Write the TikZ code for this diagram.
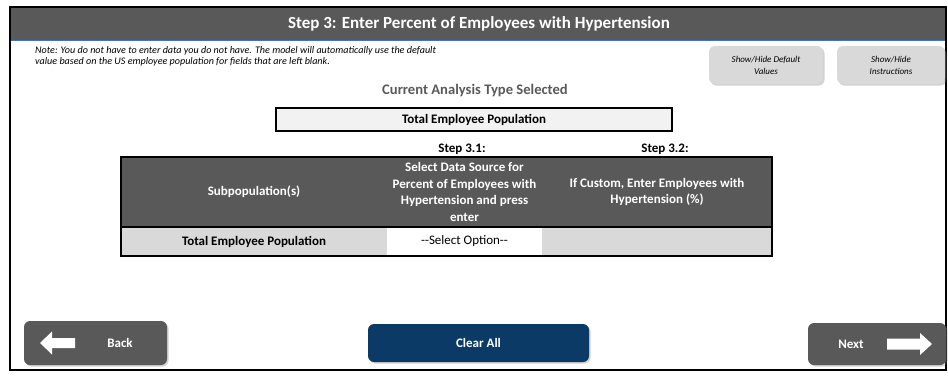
\documentclass[tikz,border=0pt]{standalone}
\usepackage{fontspec}
\setmainfont{Carlito}
\usetikzlibrary{shadows,positioning}
\definecolor{hdrgray}{HTML}{595959}
\definecolor{cellgray}{HTML}{D9D9D9}
\definecolor{boxgray}{HTML}{F2F2F2}
\definecolor{navy}{HTML}{0B3A66}
\definecolor{lineblue}{HTML}{4472C4}

\tikzset{
  btn/.style={rounded corners=6pt, inner sep=0pt,
    drop shadow={shadow xshift=1.5pt, shadow yshift=-1.5pt, opacity=0.35}},
  smallbtn/.style={btn, fill=cellgray, font=\fontsize{9}{12}\selectfont\itshape, align=center},
  bigbtn/.style={btn, fill=hdrgray, text=white, font=\fontsize{13}{15}\selectfont\bfseries},
  hdrcell/.style={fill=hdrgray, text=white, inner sep=0pt, align=center,
    minimum height=70pt, font=\fontsize{13}{16.7}\selectfont\bfseries},
  rowcell/.style={inner sep=0pt, minimum height=29pt, font=\fontsize{13}{15}\selectfont},
  steplbl/.style={font=\fontsize{13}{15}\selectfont\bfseries},
  btntxt/.style={text=white, font=\fontsize{13}{15}\selectfont\bfseries},
}

\begin{document}
\begin{tikzpicture}[x=1pt, y=-1pt]
    \useasboundingbox (0,0) rectangle (948,375);

    % frame and title bar
    \fill[hdrgray] (10,7) rectangle (946,40);
    \draw[lineblue, thick] (10,40) -- (946,40);
    \draw[line width=1.6pt] (10,7) rectangle (946,370);
    \node[text=white, font=\fontsize{17}{20}\selectfont\bfseries] (title) at (479,23.5)
        {Step 3: Enter Percent of Employees with Hypertension};

    \node[anchor=north west, align=left, inner sep=0pt, font=\fontsize{10.1}{11}\selectfont\itshape] (note) at (35,46)
        {Note: You do not have to enter data you do not have. The model will automatically use the default\\
         value based on the US employee population for fields that are left blank.};

    \node[smallbtn, minimum width=114pt, minimum height=38pt] (defaults) at (766,65)
        {Show/Hide Default\\Values};
    \node[smallbtn, minimum width=108pt, minimum height=38pt] (instr) at (891,65)
        {Show/Hide\\Instructions};

    \node[text=hdrgray, font=\fontsize{14.6}{17}\selectfont\bfseries] (analysis) at (475,91)
        {Current Analysis Type Selected};
    \node[draw, line width=1.2pt, fill=boxgray, minimum width=396pt, minimum height=23pt,
        inner sep=0pt, font=\fontsize{13}{15}\selectfont\bfseries] (atype) at (474,119.5)
        {Total Employee Population};

    % table
    \node[steplbl] (step31) at (462,149) {Step 3.1:};
    \node[steplbl] (step32) at (665,149) {Step 3.2:};

    \node[hdrcell, minimum width=266pt] (hsub) at (254,192) {Subpopulation(s)};
    \node[hdrcell, minimum width=155pt] (hsrc) at (464.5,192)
        {Select Data Source for\\Percent of Employees with\\Hypertension and press\\enter};
    \node[hdrcell, minimum width=230pt] (hcust) at (657,192)
        {If Custom, Enter Employees with\\Hypertension (\%)};

    \node[rowcell, fill=cellgray, minimum width=266pt, font=\fontsize{13}{15}\selectfont\bfseries] (rsub) at (254,241.5)
        {Total Employee Population};
    \node[rowcell, fill=white, minimum width=155pt] (rsrc) at (464.5,241.5) {-{}-Select Option-{}-};
    \node[rowcell, fill=cellgray, minimum width=230pt] (rcust) at (657,241.5) {};

    \draw[line width=1.4pt] (121,157) rectangle (772,256);
    \draw[line width=1.4pt] (121,227) -- (772,227);

    % navigation buttons
    \node[bigbtn, minimum width=143pt, minimum height=44pt] (back) at (95.5,343) {};
    \fill[white] (40,343) -- (52,331.5) -- (52,338) -- (75,338) -- (75,348) -- (52,348) -- (52,354.5) -- cycle;
    \node[btntxt] (backtxt) at (120,343) {Back};

    \node[bigbtn, fill=navy, minimum width=221pt, minimum height=38pt] (clear) at (478.5,343) {Clear All};

    \node[bigbtn, minimum width=138pt, minimum height=42pt] (next) at (877,344) {};
    \node[btntxt] (nexttxt) at (851,344) {Next};
    \fill[white] (932,344) -- (920,333) -- (920,338.5) -- (887,338.5) -- (887,349.5) -- (920,349.5) -- (920,355) -- cycle;

\end{tikzpicture}
\end{document}
